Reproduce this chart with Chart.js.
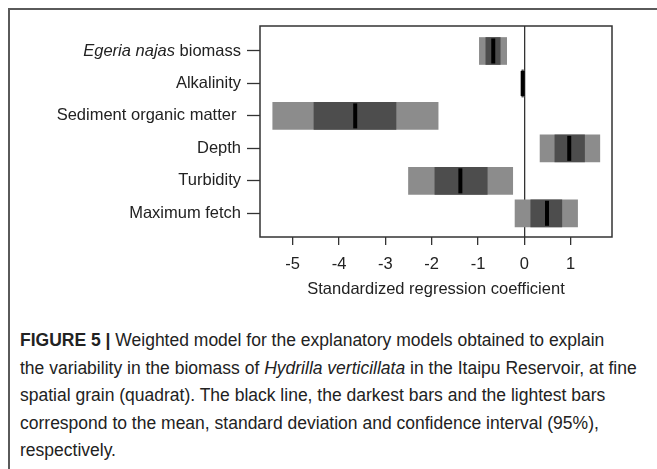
<!DOCTYPE html>
<html>
<head>
<meta charset="utf-8">
<script src="https://cdn.jsdelivr.net/npm/chart.js@4"></script>
<style>
  html, body { margin: 0; padding: 0; background: #fff; width: 657px; height: 469px; overflow: hidden; }
  #frame {
    position: absolute; left: 8px; top: 8px; width: 700px; height: 520px;
    border-left: 2px solid #5a5a5a; border-top: 2px solid #5a5a5a;
  }
  #chart { position: absolute; left: 0; top: 0; }
  #caption {
    position: absolute; left: 20px; top: 327px;
    font-family: "Liberation Sans", Arial, sans-serif; font-size: 17.5px;
    line-height: 27.5px; color: #222; white-space: nowrap;
  }
</style>
</head>
<body>
<div id="frame"></div>
<canvas id="chart" width="657" height="300"></canvas>
<div id="caption">
  <b>FIGURE 5 |</b> Weighted model for the explanatory models obtained to explain<br>
  the variability in the biomass of <i>Hydrilla verticillata</i> in the Itaipu Reservoir, at fine<br>
  spatial grain (quadrat). The black line, the darkest bars and the lightest bars<br>
  correspond to the mean, standard deviation and confidence interval (95%),<br>
  respectively.
</div>
<script>
const predictors = ['Egeria najas biomass', 'Alkalinity', 'Sediment organic matter ', 'Depth', 'Turbidity', 'Maximum fetch'];
const meanCoef = [-0.67, -0.035, -3.65, 0.97, -1.38, 0.49];
const sdLow = [-0.83, -0.045, -4.54, 0.66, -1.93, 0.14];
const sdHigh = [-0.52, -0.025, -2.77, 1.30, -0.80, 0.81];
const ciLow = [-0.97, -0.06, -5.43, 0.34, -2.50, -0.20];
const ciHigh = [-0.38, -0.01, -1.86, 1.63, -0.25, 1.15];
const xTicks = [-5, -4, -3, -2, -1, 0, 1];

const font = '"Liberation Sans", Arial, sans-serif';

const boxPlugin = {
  id: 'box',
  afterDraw(chart) {
    const { ctx, chartArea: a, scales } = chart;
    ctx.save();
    ctx.strokeStyle = '#333';
    ctx.lineWidth = 1.5;
    ctx.strokeRect(a.left, a.top, a.right - a.left, a.bottom - a.top);

    // y labels (first one has an italic species name)
    ctx.fillStyle = '#222';
    ctx.textBaseline = 'middle';
    ctx.textAlign = 'right';
    const xr = a.left - 19;
    predictors.forEach((label, i) => {
      const y = scales.y.getPixelForValue(i);
      if (i === 0) {
        const rest = ' biomass';
        ctx.font = '16.5px ' + font;
        ctx.fillText(rest, xr, y);
        const w = ctx.measureText(rest).width;
        ctx.font = 'italic 16.5px ' + font;
        ctx.fillText('Egeria najas', xr - w, y);
      } else {
        ctx.font = '16.5px ' + font;
        ctx.fillText(label, xr, y);
      }
    });
    ctx.restore();
  }
};

new Chart(document.getElementById('chart'), {
  type: 'bar',
  data: {
    datasets: [
      {
        type: 'scatter',
        order: 0,
        data: predictors.map((_, i) => ({ x: meanCoef[i], y: i })),
        pointStyle: 'line',
        rotation: 90,
        radius: 12.5,
        hoverRadius: 12.5,
        borderWidth: 4,
        borderColor: '#000',
        backgroundColor: '#000',
      },
      {
        order: 1,
        data: predictors.map((_, i) => ({ x: [sdLow[i], sdHigh[i]], y: i })),
        backgroundColor: '#4d4d4d',
        barThickness: 27,
        grouped: false,
        borderWidth: 0,
      },
      {
        order: 2,
        data: predictors.map((_, i) => ({ x: [ciLow[i], ciHigh[i]], y: i })),
        backgroundColor: '#8c8c8c',
        barThickness: 27,
        grouped: false,
        borderWidth: 0,
      },
    ],
  },
  options: {
    indexAxis: 'y',
    responsive: false,
    animation: false,
    devicePixelRatio: 1,
    layout: { padding: { left: 0, top: 26, right: 45, bottom: 0 } },
    plugins: { legend: { display: false }, tooltip: { enabled: false } },
    scales: {
      x: {
        type: 'linear',
        min: -5.705,
        max: 1.893,
        z: 1,
        afterBuildTicks: (scale) => { scale.ticks = xTicks.map((v) => ({ value: v })); },
        afterFit: (scale) => { scale.height = 63; },
        border: { display: false },
        grid: {
          color: (c) => (c.tick && c.tick.value === 0 ? '#333' : 'rgba(0,0,0,0)'),
          lineWidth: 1.3,
          drawTicks: true,
          tickLength: 8,
          tickColor: '#333',
          tickWidth: 1.3,
        },
        ticks: {
          color: '#222',
          padding: 10,
          maxRotation: 0,
          font: { family: font, size: 16.5 },
          callback: (v) => String(v),
        },
        title: {
          display: true,
          text: 'Standardized regression coefficient',
          color: '#222',
          font: { family: font, size: 16.5 },
          padding: { top: 0, bottom: 1 },
        },
      },
      y: {
        type: 'linear',
        reverse: true,
        offset: false,
        min: -0.77,
        max: 5.73,
        afterBuildTicks: (scale) => { scale.ticks = predictors.map((_, i) => ({ value: i })); },
        afterFit: (scale) => { scale.width = 260; },
        border: { display: false },
        grid: {
          offset: false,
          drawOnChartArea: false,
          drawTicks: true,
          tickLength: 13,
          tickColor: '#333',
          tickWidth: 1.3,
        },
        ticks: { display: false },
      },
    },
  },
  plugins: [boxPlugin],
});
</script>
</body>
</html>
